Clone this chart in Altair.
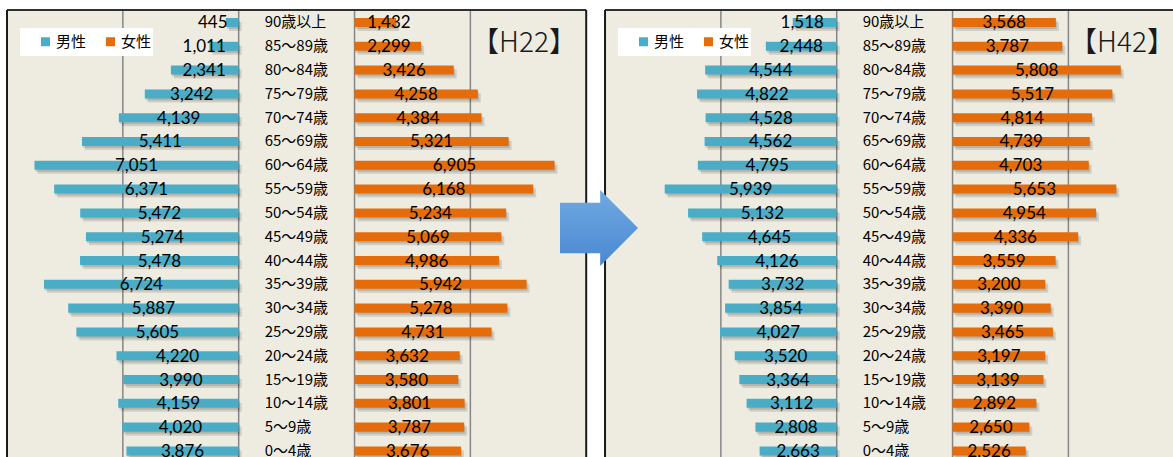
import altair as alt
import pandas as pd

ages = ["90歳以上", "85～89歳", "80～84歳", "75～79歳", "70～74歳", "65～69歳",
        "60～64歳", "55～59歳", "50～54歳", "45～49歳", "40～44歳", "35～39歳",
        "30～34歳", "25～29歳", "20～24歳", "15～19歳", "10～14歳", "5～9歳", "0～4歳"]

male_h22 = [445, 1011, 2341, 3242, 4139, 5411, 7051, 6371, 5472, 5274, 5478,
            6724, 5887, 5605, 4220, 3990, 4159, 4020, 3876]
female_h22 = [1432, 2299, 3426, 4258, 4384, 5321, 6905, 6168, 5234, 5069, 4986,
              5942, 5278, 4731, 3632, 3580, 3801, 3787, 3676]
male_h42 = [1518, 2448, 4544, 4822, 4528, 4562, 4795, 5939, 5132, 4645, 4126,
            3732, 3854, 4027, 3520, 3364, 3112, 2808, 2663]
female_h42 = [3568, 3787, 5808, 5517, 4814, 4739, 4703, 5653, 4954, 4336, 3559,
              3200, 3390, 3465, 3197, 3139, 2892, 2650, 2526]

panels = ["H22", "H42"]
panel_tags = ["【H22】", "【H42】"]
sexes = ["男性", "女性"]
colors = ["#4BACC6", "#E46C0A"]
grid_ticks = [0, 4000]

NUM_FONT = "Lato"
CJK_FONT = "Noto Sans CJK JP"

# layout constants (pixel geometry, not data)
W, H = 1166, 447
UPX = 34.53                      # data units per pixel
OFF = "(datum.panel == 'H42' ? 20650 : 0)"

rows = []
for p, male, female in [("H22", male_h22, female_h22), ("H42", male_h42, female_h42)]:
    for i, a in enumerate(ages):
        rows.append(dict(panel=p, age=a, idx=i, sex=sexes[0], value=male[i], side=-1))
        rows.append(dict(panel=p, age=a, idx=i, sex=sexes[1], value=female[i], side=1))
df = pd.DataFrame(rows)

grid_df = pd.DataFrame([dict(panel=p, side=s, v=t) for p in panels for s in (-1, 1)
                        for t in grid_ticks])
panel_df = pd.DataFrame({"panel": panels, "tag": panel_tags})
age_df = pd.DataFrame([dict(panel=p, age=a, idx=i) for p in panels for i, a in enumerate(ages)])

xs = alt.Scale(domain=[0, W * UPX], nice=False, zero=False)
ys = alt.Scale(domain=[-0.525, 18.256], nice=False, zero=False, reverse=True)

bars_base = alt.Chart(df).transform_calculate(
    off=OFF,
    label="format(datum.value, ',')",
).transform_calculate(
    x0="datum.off + 10000 + datum.side * 2000",
    x1="datum.off + 10000 + datum.side * (2000 + datum.value)",
    lx="datum.off + 10000 + datum.side * (2000 + max(datum.value / 2, (13 + length(datum.label) * 4.3) * 34.53))",
    ya="datum.idx - 0.19",
    yb="datum.idx + 0.19",
    sex22="datum.sex",
    sex42="datum.sex",
)

panel_base = alt.Chart(panel_df).transform_calculate(
    off=OFF, offend=OFF + " + 20000")

background = panel_base.mark_rect(color="#EEECE1").encode(
    x=alt.X("off:Q", scale=xs, axis=None), x2="offend:Q",
    y=alt.value(0), y2=alt.value(H))

grid = alt.Chart(grid_df).transform_calculate(
    gx=OFF + " + 10000 + datum.side * (2000 + datum.v)"
).mark_rule(color="#868686", strokeWidth=1.5).encode(
    x=alt.X("gx:Q", scale=xs, axis=None), y=alt.value(0), y2=alt.value(H))

shadow1 = bars_base.mark_rect(color="#000000", opacity=0.13, xOffset=1, x2Offset=1,
                              yOffset=2, y2Offset=2).encode(
    x=alt.X("x0:Q", scale=xs, axis=None), x2="x1:Q",
    y=alt.Y("ya:Q", scale=ys, axis=None), y2="yb:Q")
shadow2 = bars_base.mark_rect(color="#000000", opacity=0.12, xOffset=3, x2Offset=3,
                              yOffset=4, y2Offset=4).encode(
    x=alt.X("x0:Q", scale=xs, axis=None), x2="x1:Q",
    y=alt.Y("ya:Q", scale=ys, axis=None), y2="yb:Q")


def legend(x):
    return alt.Legend(orient="none", legendX=x, legendY=24, direction="horizontal",
                      title=None, symbolType="square", symbolSize=81, symbolStrokeWidth=0,
                      labelFont=CJK_FONT, labelFontSize=15, labelColor="#000000",
                      columnPadding=16, labelOffset=3, padding=0)


bars22 = bars_base.transform_filter("datum.panel == 'H22'").mark_rect().encode(
    x=alt.X("x0:Q", scale=xs, axis=None), x2="x1:Q",
    y=alt.Y("ya:Q", scale=ys, axis=None), y2="yb:Q",
    color=alt.Color("sex22:N", scale=alt.Scale(domain=sexes, range=colors), legend=legend(31)))
bars42 = bars_base.transform_filter("datum.panel == 'H42'").mark_rect().encode(
    x=alt.X("x0:Q", scale=xs, axis=None), x2="x1:Q",
    y=alt.Y("ya:Q", scale=ys, axis=None), y2="yb:Q",
    fill=alt.Fill("sex42:N", scale=alt.Scale(domain=sexes, range=colors), legend=legend(629)))

labels = bars_base.mark_text(font=NUM_FONT, fontSize=17, color="#000000",
                             align="center", baseline="middle", dy=1).encode(
    x=alt.X("lx:Q", scale=xs, axis=None), y=alt.Y("idx:Q", scale=ys, axis=None),
    text="label:N")

agetext = alt.Chart(age_df).transform_calculate(
    ax=OFF + " + 8000"
).mark_text(font=CJK_FONT, fontSize=15, color="#000000", align="left",
            baseline="middle", dx=26).encode(
    x=alt.X("ax:Q", scale=xs, axis=None), y=alt.Y("idx:Q", scale=ys, axis=None),
    text="age:N")

legbox = panel_base.mark_rect(color="white", xOffset=13, x2Offset=146).encode(
    x=alt.X("off:Q", scale=xs, axis=None), x2="off:Q",
    y=alt.value(18), y2=alt.value(46))

tagtext = panel_base.mark_text(font=CJK_FONT, fontSize=28, fontWeight=300,
                               color="#1a1a1a", align="center", baseline="middle",
                               dx=517).encode(
    x=alt.X("off:Q", scale=xs, axis=None), y=alt.value(34), text="tag:N")

top_border = panel_base.mark_rule(color="#303030", strokeWidth=2).encode(
    x=alt.X("off:Q", scale=xs, axis=None), x2="offend:Q", y=alt.value(0))
left_border = panel_base.mark_rule(color="#1a1a1a", strokeWidth=2).encode(
    x=alt.X("off:Q", scale=xs, axis=None), y=alt.value(0), y2=alt.value(H))
right_border = panel_base.mark_rule(color="#1a1a1a", strokeWidth=2).encode(
    x=alt.X("offend:Q", scale=xs, axis=None), y=alt.value(0), y2=alt.value(H))

grad = {"gradient": "linear", "x1": 0, "y1": 0, "x2": 0, "y2": 1,
        "stops": [{"offset": 0, "color": "#6FAAE3"}, {"offset": 1, "color": "#4A87D0"}]}
arrow_path = "M-1,-0.65 L0.03,-0.65 L0.03,-0.975 L1,0 L0.03,0.975 L0.03,0.65 L-1,0.65 Z"
arrow = alt.Chart(alt.Data(values=[{"k": 1}])).mark_point(
    shape=arrow_path, size=6084, filled=True, fill=grad, strokeWidth=0, opacity=1).encode(
    x=alt.value(592), y=alt.value(218))

chart = alt.layer(
    background, grid, shadow1, shadow2, bars22, bars42, labels, agetext,
    legbox, tagtext, top_border, left_border, right_border, arrow
).resolve_scale(color="independent", fill="independent").properties(
    width=W, height=H,
    padding={"left": 7, "top": 10, "right": 0, "bottom": 0},
    autosize=alt.AutoSizeParams(type="none"),
    background="white",
).configure_view(stroke="transparent")

chart.save("out.html", embed_options={"renderer": "svg", "actions": False})
